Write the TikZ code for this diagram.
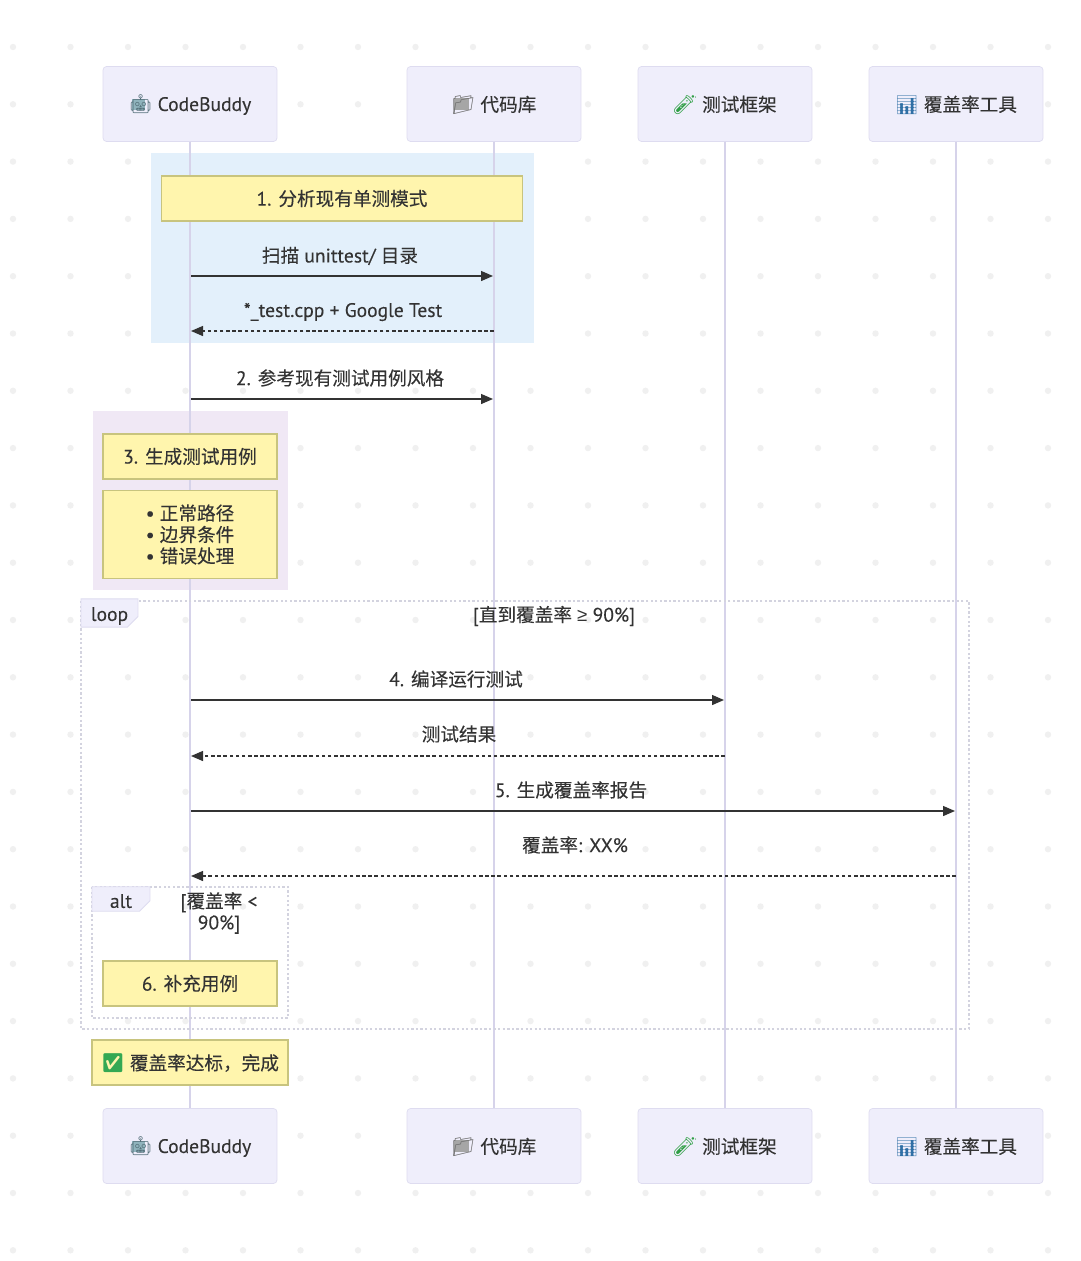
\documentclass[tikz,border=0pt]{standalone}
\usepackage{fontspec}
\usetikzlibrary{arrows.meta,shapes.misc}
\setmainfont[Scale=1.05,FakeBold=0.12]{PT Sans}
\newfontfamily\cjk[FakeBold=0.15]{Noto Sans CJK SC}
\newfontfamily\symfont{Liberation Sans}
\newfontfamily\emojifont{Noto Emoji}
\newcommand{\zh}[1]{{\cjk #1}}
\newcommand{\emo}[2]{{\emojifont\textcolor[HTML]{#1}{#2}}}
% solid patch under an outline emoji: colour, x offset, width, height, raise
\newcommand{\patch}[5]{\makebox[0pt][l]{\hspace*{#2}\raisebox{#5}{\textcolor[HTML]{#1}{\rule{#3}{#4}}}}}
\newcommand{\lowered}[1]{\raisebox{-0.6pt}[\height][\depth]{#1}}
\newcommand{\botname}{\patch{8FB3BC}{1.6pt}{7.6pt}{6.6pt}{0.4pt}\emo{55707A}{🤖} CodeBuddy}
\newcommand{\reponame}{\patch{A6A6A6}{1.6pt}{8.4pt}{7pt}{0.6pt}\emo{6E6E6E}{📁} \zh{代码库}}
\newcommand{\testname}{\emo{2E9E44}{🧪} \zh{测试框架}}
\newcommand{\covername}{\emo{2F6FA5}{📊} \zh{覆盖率工具}}
\definecolor{actorfill}{HTML}{EFEEFB}
\definecolor{actorline}{HTML}{DEDCF0}
\definecolor{lifeline}{HTML}{D6D3EA}
\definecolor{notefill}{HTML}{FFF5AD}
\definecolor{noteline}{HTML}{C8C47E}
\definecolor{bluezone}{HTML}{E3F0FB}
\definecolor{purplezone}{HTML}{F0E8F5}
\definecolor{griddot}{HTML}{F0F0F0}
\definecolor{framedot}{HTML}{D3D3DF}
\definecolor{inktext}{HTML}{333333}
\tikzset{
	actor/.style={draw=actorline,fill=actorfill,rounded corners=2pt,minimum width=3.48cm,minimum height=1.5cm,inner sep=0pt},
	life/.style={draw=lifeline,line width=0.9pt},
	note/.style={draw=noteline,fill=notefill,line width=0.6pt,minimum height=0.9cm,inner sep=0pt,align=center},
	msg/.style={inktext,line width=0.75pt,-{Triangle[length=0.24cm,width=0.2cm]}},
	reply/.style={msg,dash pattern=on 2pt off 1.5pt},
	msgtext/.style={inner sep=0pt,text=inktext},
	frame/.style={draw=framedot,line width=0.7pt,dash pattern=on 1.3pt off 1.3pt},
	tab/.style={draw=actorline,fill=actorfill,line width=0.5pt,chamfered rectangle,chamfered rectangle corners=south east,chamfered rectangle sep=3pt,minimum height=0.48cm,inner sep=0pt}
}
\begin{document}
\begin{tikzpicture}[x=0.02cm,y=-0.02cm,font=\fontsize{10.6}{12.2}\selectfont,text=inktext]
	\useasboundingbox (0,0) rectangle (1080,1261);
	\fill[white] (0,0) rectangle (1080,1261);
	% background dots
	\foreach \i in {0,...,18}{\foreach \j in {0,...,21}{\fill[griddot] (13+57.5*\i,47+57.3*\j) circle[radius=3.2];}}
	% zones
	\fill[bluezone] (151,153) rectangle (534,343);
	\fill[purplezone] (93,411) rectangle (288,590);
	% actors
	\node[actor] (buddytop) at (190,104) {\lowered{\botname}};
	\node[actor] (repotop) at (494,104) {\lowered{\reponame}};
	\node[actor] (frametop) at (725,104) {\lowered{\testname}};
	\node[actor] (covertop) at (956,104) {\lowered{\covername}};
	\node[actor] (buddybot) at (190,1146) {\lowered{\botname}};
	\node[actor] (repobot) at (494,1146) {\lowered{\reponame}};
	\node[actor] (framebot) at (725,1146) {\lowered{\testname}};
	\node[actor] (coverbot) at (956,1146) {\lowered{\covername}};
	\draw[life] (buddytop)--(buddybot);
	\draw[life] (repotop)--(repobot);
	\draw[life] (frametop)--(framebot);
	\draw[life] (covertop)--(coverbot);
	% frames
	\draw[frame] (81,601) rectangle (969,1029);
	\draw[frame] (92,887) rectangle (288,1018);
	\node[tab,minimum width=1.14cm] (looptab) at (109.5,613) {\raisebox{-1.7pt}[\height][\depth]{loop}};
	\node[tab,minimum width=1.16cm] (alttab) at (121,899) {\raisebox{-1.2pt}[\height][\depth]{alt}};
	\node[msgtext] (looptext) at (554,616) {[\zh{直到覆盖率} {\symfont ≥} 90\%]};
	\node[msgtext,align=center] (alttext) at (219,913) {[\zh{覆盖率} <\\90\%]};
	% notes
	\node[note,minimum width=7.24cm] (noteone) at (342,198.5) {1. \zh{分析现有单测模式}};
	\node[note,minimum width=3.48cm] (notethree) at (190,456.5) {3. \zh{生成测试用例}};
	\node[note,minimum width=3.48cm,minimum height=1.76cm] (notelist) at (190,534.5) {• \zh{正常路径}\\• \zh{边界条件}\\• \zh{错误处理}};
	\node[note,minimum width=3.48cm] (notesix) at (190,983.5) {6. \zh{补充用例}};
	\node[note,minimum width=3.92cm] (notedone) at (190,1062.5) {\lowered{\emo{34A853}{✅} \zh{覆盖率达标，完成}}};
	% messages
	\coordinate (ma1) at (191,276);\coordinate (mb1) at (493,276);
	\coordinate (ma2) at (191,331);\coordinate (mb2) at (494,331);
	\coordinate (ma3) at (191,399);\coordinate (mb3) at (493,399);
	\coordinate (ma4) at (191,700);\coordinate (mc4) at (724,700);
	\coordinate (ma5) at (191,756);\coordinate (mc5) at (725,756);
	\coordinate (ma6) at (191,811);\coordinate (md6) at (955,811);
	\coordinate (ma7) at (191,876);\coordinate (md7) at (956,876);
	\draw[msg] (ma1)--(mb1);\node[msgtext] (textone) at (340,256) {\zh{扫描} unittest/ \zh{目录}};
	\draw[reply] (mb2)--(ma2);\node[msgtext] (texttwo) at (343,312) {*\_test.cpp + Google Test};
	\draw[msg] (ma3)--(mb3);\node[msgtext] (textthree) at (340,378) {2. \zh{参考现有测试用例风格}};
	\draw[msg] (ma4)--(mc4);\node[msgtext] (textfour) at (456,679) {4. \zh{编译运行测试}};
	\draw[reply] (mc5)--(ma5);\node[msgtext] (textfive) at (459,734) {\zh{测试结果}};
	\draw[msg] (ma6)--(md6);\node[msgtext] (textsix) at (571,790) {5. \zh{生成覆盖率报告}};
	\draw[reply] (md7)--(ma7);\node[msgtext] (textseven) at (575,845) {\zh{覆盖率}: XX\%};
\end{tikzpicture}
\end{document}
